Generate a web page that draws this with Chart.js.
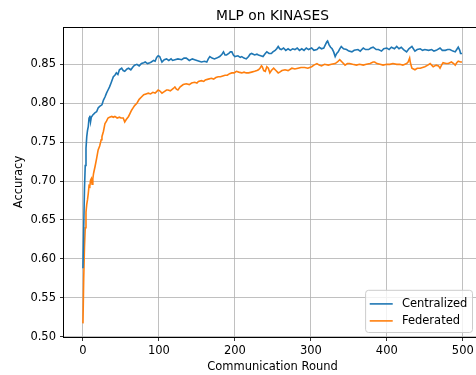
<!DOCTYPE html>
<html>
<head>
<meta charset="utf-8">
<script src="https://cdn.jsdelivr.net/npm/chart.js@4/dist/chart.umd.min.js"></script>
<style>
  html, body { margin: 0; padding: 0; background: #fff; overflow: hidden; }
  #wrap { width: 484px; height: 375px; }
</style>
</head>
<body>
<div id="wrap"><canvas id="chart" width="484" height="375"></canvas></div>
<script>
// Test accuracy per communication round
const centralRounds = [0,1,2,3,4,5,6,7,8,9,10,11,13,16,18,20,22,25,27,29,31,33,35,37,40,42,44,46,48,51,53,55,58,60,63,66,68,71,74,77,80,82,85,88,90,93,95,97,99,101,104,107,110,113,116,118,121,125,130,133,136,140,144,147,150,153,156,160,163,165,167,170,173,176,180,183,185,187,189,192,194,196,198,200,204,207,209,212,215,218,220,222,226,229,231,234,237,240,242,245,248,250,253,255,257,259,261,264,267,270,273,276,279,282,285,288,291,294,297,301,304,308,311,314,317,319,321,322,324,326,328,330,332,334,336,338,340,343,347,350,354,357,362,365,369,372,376,379,382,386,389,393,396,400,403,406,410,413,416,419,422,426,429,433,437,440,444,447,450,455,459,462,465,470,473,477,480,483,487,490,492,494,496,497,499];
const centralAcc = [0.588,0.640,0.690,0.720,0.742,0.757,0.765,0.770,0.781,0.784,0.776,0.782,0.785,0.788,0.789,0.794,0.796,0.798,0.804,0.808,0.813,0.817,0.821,0.826,0.834,0.836,0.839,0.837,0.843,0.845,0.842,0.841,0.844,0.845,0.843,0.847,0.849,0.850,0.848,0.851,0.852,0.853,0.851,0.852,0.853,0.855,0.854,0.859,0.861,0.860,0.853,0.856,0.857,0.855,0.857,0.855,0.856,0.857,0.856,0.858,0.858,0.855,0.857,0.856,0.855,0.854,0.853,0.854,0.853,0.857,0.860,0.858,0.857,0.858,0.860,0.863,0.866,0.862,0.862,0.864,0.866,0.866,0.862,0.860,0.861,0.859,0.860,0.858,0.857,0.860,0.863,0.864,0.862,0.863,0.862,0.861,0.860,0.864,0.866,0.864,0.864,0.866,0.868,0.870,0.873,0.870,0.869,0.871,0.868,0.870,0.868,0.870,0.869,0.871,0.868,0.870,0.868,0.871,0.869,0.871,0.868,0.869,0.872,0.870,0.871,0.875,0.879,0.880,0.875,0.872,0.870,0.866,0.860,0.864,0.866,0.870,0.873,0.870,0.869,0.867,0.866,0.868,0.869,0.867,0.871,0.869,0.869,0.871,0.872,0.869,0.869,0.867,0.870,0.871,0.869,0.872,0.870,0.873,0.870,0.872,0.869,0.866,0.870,0.873,0.867,0.869,0.870,0.868,0.869,0.868,0.869,0.867,0.868,0.871,0.868,0.868,0.869,0.869,0.867,0.866,0.869,0.872,0.868,0.864,0.864];

const fedRounds = [0,1,2,3,4,5,6,7,8,9,10,11,12,13,14,16,18,20,22,24,25,27,29,31,33,35,38,40,42,45,48,50,53,55,57,60,62,64,66,68,71,74,77,80,83,86,89,92,95,97,99,101,104,107,110,112,115,119,121,123,125,128,132,136,140,143,147,150,152,156,159,161,165,169,172,175,178,181,184,187,190,193,196,199,202,205,209,212,215,218,222,226,229,231,233,235,236,238,240,242,244,246,248,251,254,257,259,262,266,270,275,279,283,287,292,296,301,304,308,311,314,318,323,327,332,335,338,341,345,348,351,355,360,364,369,373,378,382,384,387,391,395,400,404,408,413,417,421,426,428,430,431,433,435,437,440,444,447,450,454,457,459,461,465,468,470,472,474,478,481,485,488,490,492,494,497,499];
const fedAcc = [0.517,0.575,0.615,0.640,0.660,0.670,0.676,0.684,0.694,0.693,0.701,0.703,0.696,0.703,0.710,0.719,0.729,0.740,0.745,0.753,0.757,0.764,0.774,0.777,0.781,0.782,0.783,0.782,0.783,0.781,0.782,0.781,0.781,0.776,0.779,0.783,0.787,0.791,0.794,0.797,0.800,0.805,0.808,0.811,0.812,0.813,0.812,0.814,0.813,0.815,0.817,0.816,0.813,0.815,0.817,0.817,0.816,0.819,0.821,0.818,0.817,0.821,0.824,0.825,0.824,0.826,0.827,0.826,0.828,0.829,0.828,0.830,0.831,0.832,0.831,0.833,0.834,0.834,0.835,0.836,0.836,0.838,0.839,0.839,0.841,0.840,0.839,0.840,0.839,0.839,0.840,0.841,0.842,0.843,0.845,0.848,0.847,0.842,0.841,0.847,0.845,0.839,0.842,0.845,0.842,0.839,0.840,0.842,0.843,0.842,0.845,0.844,0.845,0.846,0.846,0.845,0.847,0.849,0.851,0.849,0.848,0.850,0.849,0.850,0.851,0.853,0.856,0.853,0.849,0.851,0.851,0.850,0.849,0.850,0.849,0.850,0.851,0.853,0.853,0.851,0.850,0.849,0.850,0.850,0.851,0.850,0.850,0.849,0.851,0.853,0.858,0.852,0.845,0.844,0.843,0.845,0.845,0.846,0.847,0.849,0.851,0.849,0.847,0.849,0.848,0.845,0.849,0.852,0.851,0.851,0.853,0.851,0.849,0.852,0.854,0.853,0.853];

const seriesNames = ['Centralized', 'Federated'];
const seriesColors = ['#1f77b4', '#ff7f0e'];
const xTicks = [0, 100, 200, 300, 400, 500];
const yTicks = [0.50, 0.55, 0.60, 0.65, 0.70, 0.75, 0.80, 0.85];

const FONT = '"DejaVu Sans", sans-serif';

function pts(xs, ys) { return xs.map((x, i) => ({ x: x, y: ys[i] })); }

// Frame, title, axis labels and an in-plot legend box
const decor = {
  id: 'decor',
  afterDatasetsDraw(chart) {
    const ctx = chart.ctx, a = chart.chartArea;
    ctx.save();
    ctx.strokeStyle = '#000';
    ctx.lineWidth = 1;
    const l = Math.round(a.left) - 0.5, t = Math.round(a.top) + 0.5;
    const r = Math.round(a.right) - 0.5, b = Math.round(a.bottom) + 0.5;
    ctx.strokeRect(l, t, r - l, b - t);
    ctx.restore();
  },
  afterDraw(chart) {
    const ctx = chart.ctx, a = chart.chartArea;
    ctx.save();
    ctx.fillStyle = '#000';
    ctx.textAlign = 'center';
    ctx.textBaseline = 'alphabetic';
    ctx.font = '13.8px ' + FONT;
    ctx.fillText('MLP on KINASES', (a.left + a.right) / 2, 20);
    ctx.font = '11.5px ' + FONT;
    ctx.fillText('Communication Round', (a.left + a.right) / 2, 370);
    ctx.translate(19, (a.top + a.bottom) / 2);
    ctx.rotate(-Math.PI / 2);
    ctx.textBaseline = 'middle';
    ctx.fillText('Accuracy', 0, 0);
    ctx.restore();

    // legend
    ctx.save();
    const fs = 11.5;
    ctx.font = fs + 'px ' + FONT;
    const textW = Math.max(...seriesNames.map(n => ctx.measureText(n).width));
    const pad = 0.4 * fs, handle = 2 * fs, gap = 0.8 * fs, rowH = 17;
    const w = pad + handle + gap + textW + pad;
    const h = rowH * seriesNames.length + 2 * pad - 1;
    const bx = 476 - 4 - w, by = a.bottom - 5 - h;
    ctx.beginPath();
    ctx.roundRect(bx + 0.5, by + 0.5, w, h, 3);
    ctx.fillStyle = 'rgba(255,255,255,0.8)';
    ctx.fill();
    ctx.strokeStyle = '#cccccc';
    ctx.lineWidth = 1;
    ctx.stroke();
    seriesNames.forEach((n, i) => {
      const cy = by + pad + rowH / 2 + i * rowH + 1;
      ctx.beginPath();
      ctx.moveTo(bx + pad, cy);
      ctx.lineTo(bx + pad + handle, cy);
      ctx.strokeStyle = seriesColors[i];
      ctx.lineWidth = 1.6;
      ctx.stroke();
      ctx.fillStyle = '#000';
      ctx.textAlign = 'left';
      ctx.textBaseline = 'middle';
      ctx.fillText(n, bx + pad + handle + gap, cy);
    });
    ctx.restore();
  }
};

new Chart(document.getElementById('chart'), {
  type: 'line',
  data: {
    datasets: [
      { label: seriesNames[0], data: pts(centralRounds, centralAcc), borderColor: seriesColors[0] },
      { label: seriesNames[1], data: pts(fedRounds, fedAcc), borderColor: seriesColors[1] }
    ]
  },
  options: {
    responsive: false,
    animation: false,
    devicePixelRatio: 1,
    layout: { padding: { top: 27, right: 3, left: 0, bottom: 0 } },
    elements: {
      point: { radius: 0 },
      line: { borderWidth: 1.6, tension: 0, fill: false }
    },
    plugins: { legend: { display: false }, title: { display: false }, tooltip: { enabled: false } },
    scales: {
      x: {
        type: 'linear',
        min: -24.95, max: 523.95,
        afterBuildTicks(s) { s.ticks = xTicks.map(v => ({ value: v })); },
        afterFit(s) { s.height = 38; },
        grid: { color: '#b0b0b0', lineWidth: 0.8, tickColor: '#000', tickLength: 4 },
        border: { display: false },
        ticks: { color: '#000', font: { family: FONT, size: 11.5 }, padding: 3, maxRotation: 0, autoSkip: false }
      },
      y: {
        type: 'linear',
        min: 0.4995, max: 0.898,
        afterBuildTicks(s) { s.ticks = yTicks.map(v => ({ value: v })); },
        afterFit(s) { s.width = 64; },
        grid: { color: '#b0b0b0', lineWidth: 0.8, tickColor: '#000', tickLength: 4 },
        border: { display: false },
        ticks: { color: '#000', font: { family: FONT, size: 11.5 }, padding: 4, autoSkip: false,
                 callback: v => v.toFixed(2) }
      }
    }
  },
  plugins: [decor]
});
</script>
</body>
</html>
